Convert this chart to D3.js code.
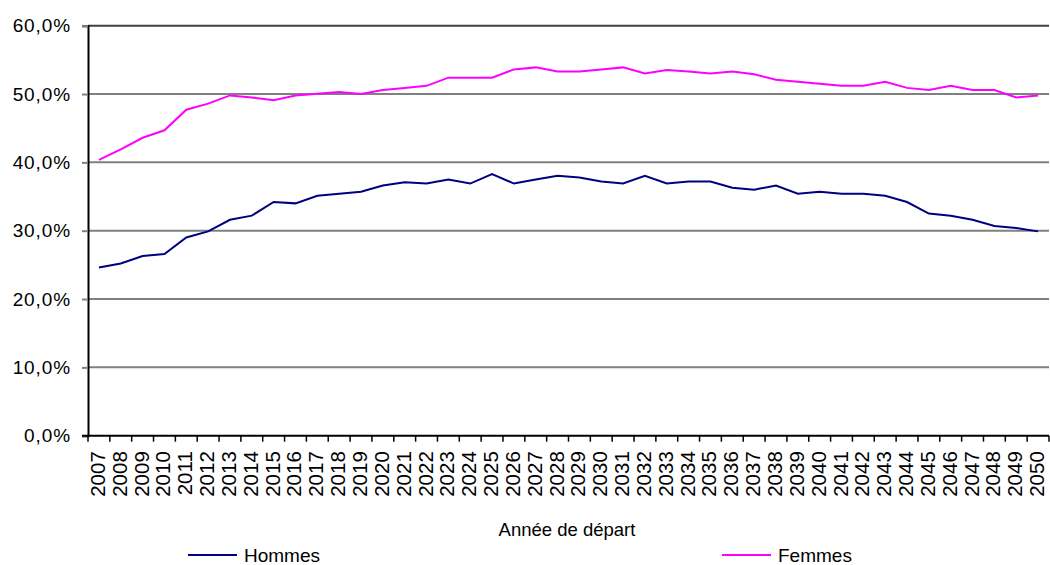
<!DOCTYPE html>
<html>
<head>
<meta charset="utf-8">
<script src="https://cdn.jsdelivr.net/npm/d3@7"></script>
<style>
  body { margin: 0; background: #fff; }
  text { font-family: "Liberation Sans", Arial, sans-serif; }
</style>
</head>
<body>
<svg id="chart" width="1050" height="565"></svg>
<script>
const years = d3.range(2007, 2051)

// taux (en %)
const hommes = [24.6, 25.2, 26.3, 26.6, 29.0, 29.9, 31.6, 32.2, 34.2, 34.0,
  35.1, 35.4, 35.7, 36.6, 37.1, 36.9, 37.5, 36.9, 38.3, 36.9,
  37.5, 38.05, 37.8, 37.2, 36.9, 38.05, 36.9, 37.2, 37.2, 36.3,
  36.0, 36.6, 35.4, 35.7, 35.4, 35.4, 35.1, 34.2, 32.5, 32.2,
  31.6, 30.7, 30.4, 29.9]

const femmes = [40.35, 41.9, 43.6, 44.7, 47.7, 48.6, 49.8, 49.5, 49.1, 49.8,
  50.05, 50.3, 50.0, 50.6, 50.9, 51.2, 52.4, 52.4, 52.4, 53.6,
  53.9, 53.3, 53.3, 53.6, 53.9, 53.0, 53.5, 53.3, 53.0, 53.3,
  52.9, 52.1, 51.8, 51.5, 51.2, 51.2, 51.8, 50.9, 50.6, 51.2,
  50.6, 50.6, 49.5, 49.8]

const yTicks = [0, 10, 20, 30, 40, 50, 60]

const series = [
  { name: "Hommes", values: hommes, color: "#000080", legendX: 188 },
  { name: "Femmes", values: femmes, color: "#ff00ff", legendX: 722 }
]

const margin = { top: 25.7, right: 1, bottom: 129.3, left: 88 }
const width = 1050, height = 565

const fr = d3.formatLocale({ decimal: ",", thousands: " ", grouping: [3], currency: ["", " €"] })
const fmt = d => fr.format(".1f")(d) + "%"

const x = d3.scaleBand()
  .domain(years)
  .range([margin.left, width - margin.right])

const y = d3.scaleLinear()
  .domain([0, 60])
  .range([height - margin.bottom, margin.top])

const svg = d3.select("#chart")

// grille
svg.append("g").attr("id", "grid")
  .selectAll("line")
  .data(yTicks.filter(d => d > 0))
  .join("line")
  .attr("x1", margin.left)
  .attr("x2", width - margin.right)
  .attr("y1", d => y(d))
  .attr("y2", d => y(d))
  .attr("stroke", d => d === 60 ? "#404040" : "#808080")
  .attr("stroke-width", 2)

// axe Y
const yAxis = svg.append("g")
  .attr("transform", `translate(${margin.left},0)`)
  .call(d3.axisLeft(y).tickValues(yTicks).tickFormat(fmt).tickSize(6).tickPadding(11))
yAxis.select(".domain").attr("stroke", "#000").attr("stroke-width", 2)
yAxis.selectAll(".tick line").attr("stroke", "#808080").attr("stroke-width", 2)
yAxis.selectAll(".tick text")
  .attr("font-size", 19)
  .attr("letter-spacing", 0.9)
  .attr("fill", "#000")
  .attr("font-family", "'Liberation Sans', Arial, sans-serif")

// axe X (catégories, graduations entre les années)
const xg = svg.append("g").attr("id", "xaxis")
xg.append("line")
  .attr("x1", margin.left - 6)
  .attr("x2", width - margin.right)
  .attr("y1", y(0))
  .attr("y2", y(0))
  .attr("stroke", "#000")
  .attr("stroke-width", 2)
xg.selectAll("line.tick")
  .data(years.concat([null]))
  .join("line")
  .attr("class", "tick")
  .attr("x1", d => d === null ? width - margin.right : x(d))
  .attr("x2", d => d === null ? width - margin.right : x(d))
  .attr("y1", y(0))
  .attr("y2", y(0) + 6)
  .attr("stroke", "#000")
  .attr("stroke-width", 1.5)
xg.selectAll("text")
  .data(years)
  .join("text")
  .attr("transform", d => `translate(${x(d) + x.bandwidth() / 2 + 6},${y(0) + 15.5}) rotate(-90)`)
  .attr("text-anchor", "end")
  .attr("font-size", 20.5)
  .attr("fill", "#000")
  .text(d => d)

// titre de l'axe
svg.append("text")
  .attr("x", 567)
  .attr("y", 536)
  .attr("text-anchor", "middle")
  .attr("font-size", 18.5)
  .attr("fill", "#000")
  .text("Année de départ")

// courbes
const line = d3.line()
  .x((d, i) => x(years[i]) + x.bandwidth() / 2)
  .y(d => y(d))

svg.append("g").attr("id", "lines")
  .selectAll("path")
  .data(series)
  .join("path")
  .attr("d", d => line(d.values))
  .attr("fill", "none")
  .attr("stroke", d => d.color)
  .attr("stroke-width", 2)

// légende
const legend = svg.append("g").attr("id", "legend")
  .selectAll("g")
  .data(series)
  .join("g")
  .attr("transform", d => `translate(${d.legendX},555)`)
legend.append("line")
  .attr("x1", 0).attr("x2", 49)
  .attr("stroke", d => d.color)
  .attr("stroke-width", 2)
legend.append("text")
  .attr("x", 56)
  .attr("y", 6.5)
  .attr("font-size", 19)
  .attr("fill", "#000")
  .text(d => d.name)
</script>
</body>
</html>
